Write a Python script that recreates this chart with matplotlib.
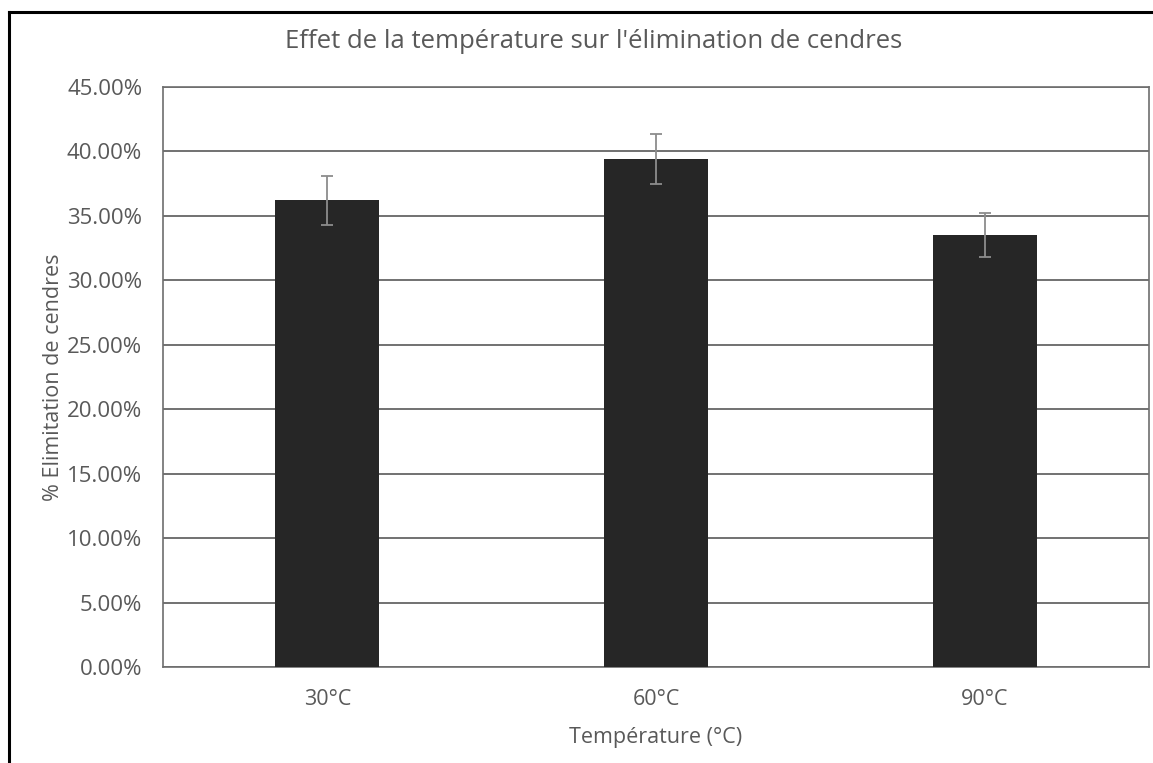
import numpy as np
import matplotlib.pyplot as plt
from matplotlib.ticker import PercentFormatter

plt.rcParams['font.family'] = ['Open Sans', 'DejaVu Sans']

categories = ['30°C', '60°C', '90°C']
values = [36.2, 39.4, 33.5]
errors = [1.87, 1.95, 1.70]

txt = '#595959'
fig = plt.figure(figsize=(11.53, 7.63), dpi=100)
# outer chart border (left/top only visible)
fig.add_artist(plt.Line2D([9 / 1153, 9 / 1153], [0, 1 - 12 / 763], color='black', lw=2.2))
fig.add_artist(plt.Line2D([9 / 1153, 1], [1 - 12 / 763, 1 - 12 / 763], color='black', lw=2.2))

ax = fig.add_axes([163 / 1153, 1 - 667 / 763, (1149 - 163) / 1153, (667 - 87) / 763])
x = np.arange(len(categories))
ax.bar(x, values, width=0.317, color='#262626', zorder=3,
       yerr=errors, ecolor='#8c8c8c', capsize=4, error_kw=dict(elinewidth=1.3, capthick=1.3, zorder=4))
ax.set_xlim(-0.5, 2.5)
ax.set_ylim(0, 45)
ax.set_yticks(np.arange(0, 46, 5))
ax.yaxis.set_major_formatter(PercentFormatter(decimals=2))
ax.set_xticks(x)
ax.set_xticklabels(categories)
ax.grid(axis='y', color='#595959', lw=1.2, zorder=0)
for s in ax.spines.values():
    s.set_color('#6e6e6e')
    s.set_linewidth(1.2)
ax.tick_params(length=0, labelsize=15.5, colors=txt)
ax.tick_params(axis='y', labelsize=16, pad=15)
ax.tick_params(axis='x', pad=16)
ax.set_xlabel('Température (°C)', fontsize=15.5, color=txt, labelpad=12)
ax.set_ylabel('% Elimitation de cendres', fontsize=15.5, color=txt, labelpad=2)
fig.text(594 / 1153, 1 - 41 / 763, "Effet de la température sur l'élimination de cendres",
         ha='center', va='center', fontsize=18.5, color=txt)
fig.savefig('out.png', dpi=100)
